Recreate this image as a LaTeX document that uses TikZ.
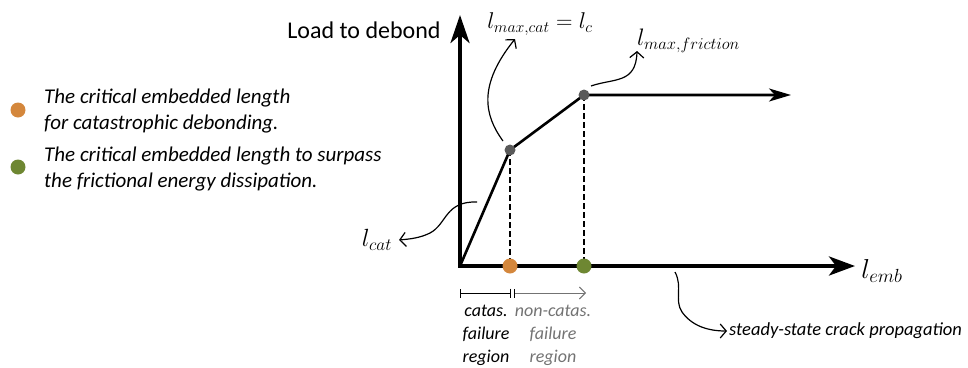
\documentclass[tikz,border=0pt]{standalone}
\usepackage{fontspec}
\setmainfont{Carlito}
\usetikzlibrary{arrows.meta}
\definecolor{orangedot}{RGB}{212,135,60}
\definecolor{greendot}{RGB}{110,135,50}
\definecolor{greydot}{RGB}{90,90,90}
\definecolor{regiongrey}{RGB}{115,115,115}
\tikzset{
  axisline/.style={line width=4pt, {Stealth[length=28pt,width=19pt,inset=8pt]}-{Stealth[length=26pt,width=19pt,inset=7pt]}},
  curveline/.style={line width=2.6pt, -{Stealth[length=22pt,width=13pt,inset=6pt]}},
  dashline/.style={line width=2.2pt, dash pattern=on 6pt off 3pt},
  dot/.style={circle, inner sep=0pt, minimum size=#1, draw=none},
  pointer/.style={line width=1.2pt, -{Straight Barb[length=6pt,width=14pt]}},
  legendtext/.style={font=\fontsize{21}{25.5}\selectfont\itshape, align=left, anchor=west, inner sep=0pt},
  regiontext/.style={font=\fontsize{18}{23}\selectfont\itshape, align=center, inner sep=0pt},
  mathlabel/.style={font=\fontsize{20.74}{25}\selectfont, inner sep=0pt, scale=#1, transform shape},
}
\begin{document}
\begin{tikzpicture}[x=1pt,y=-1pt]
\useasboundingbox (0,0) rectangle (968,367);
% key positions
\coordinate (O) at (460,266);
\coordinate (ytop) at (460,15);
\coordinate (xend) at (855,266);
\coordinate (q1) at (510,150);
\coordinate (q2) at (584,95);
\coordinate (plat) at (791,95);
\coordinate (r1) at (510,266);
\coordinate (r2) at (584,266);
% axes and curve
\draw[axisline] (ytop) -- (O) -- (xend);
\draw[dashline] (q1) -- (r1);
\draw[dashline] (q2) -- (r2);
\draw[curveline] (O) -- (q1) -- (q2) -- (plat);
% dots
\node[dot=11pt, fill=greydot] (p1) at (q1) {};
\node[dot=11pt, fill=greydot] (p2) at (q2) {};
\node[dot=15pt, fill=orangedot] (c1) at (r1) {};
\node[dot=15pt, fill=greendot] (c2) at (r2) {};
% labels
\node[font=\fontsize{24}{28}\selectfont, inner sep=0pt] (lload) at (364,30) {Load to debond};
\node[mathlabel=1.1] (lmaxcat) at (540,24) {$l_{max,cat}=l_c$};
\node[mathlabel=1.15, anchor=west] (lfric) at (637,41) {$l_{max,friction}$};
\node[mathlabel=1.2] (lcat) at (377,240) {$l_{cat}$};
\node[mathlabel=1.32, anchor=west] (lemb) at (861,271) {$l_{emb}$};
\node[font=\fontsize{18.5}{22}\selectfont\itshape, anchor=west, inner sep=0pt] (lsteady) at (729,331) {steady-state crack propagation};
% pointers
\coordinate (s1) at (503,141);
\coordinate (e1) at (515,39);
\draw[pointer] (s1) .. controls (484,115) and (478,85) .. (e1);
\coordinate (s2) at (591,86);
\coordinate (e2) at (637,51);
\draw[pointer] (s2) .. controls (614,78) and (636,84) .. (e2);
\coordinate (s3) at (477,202);
\coordinate (e3) at (399,240);
\draw[pointer] (s3) .. controls (445,201) and (447,224) .. (430,233) .. controls (420,238) and (410,239) .. (e3);
\coordinate (s4) at (675,272);
\coordinate (e4) at (727,331);
\draw[pointer] (s4) .. controls (683,287) and (674,300) .. (682,312) .. controls (692,326) and (708,331) .. (e4);
% region bracket
\coordinate (b0) at (460,293);
\coordinate (b1) at (511,293);
\coordinate (b2) at (514,293);
\coordinate (b3) at (586,293);
\draw[line width=0.9pt, {Bar[width=9pt]}-{Bar[width=9pt]}] (b0) -- (b1);
\draw[line width=0.9pt, regiongrey, {Bar[width=9pt,black]}-{Straight Barb[length=6pt,width=12pt]}] (b2) -- (b3);
\node[regiontext] (rcat) at (486,335) {catas.\\failure\\region};
\node[regiontext, text=regiongrey] (rnon) at (553,335) {non-catas.\\failure\\region};
% legend
\node[dot=15pt, fill=orangedot] (lgo) at (18,110) {};
\node[dot=15pt, fill=greendot] (lgg) at (18,167) {};
\node[legendtext] (lt1) at (44,111) {The critical embedded length\\for catastrophic debonding.};
\node[legendtext] (lt2) at (44,169) {The critical embedded length to surpass\\the frictional energy dissipation.};
\end{tikzpicture}
\end{document}
